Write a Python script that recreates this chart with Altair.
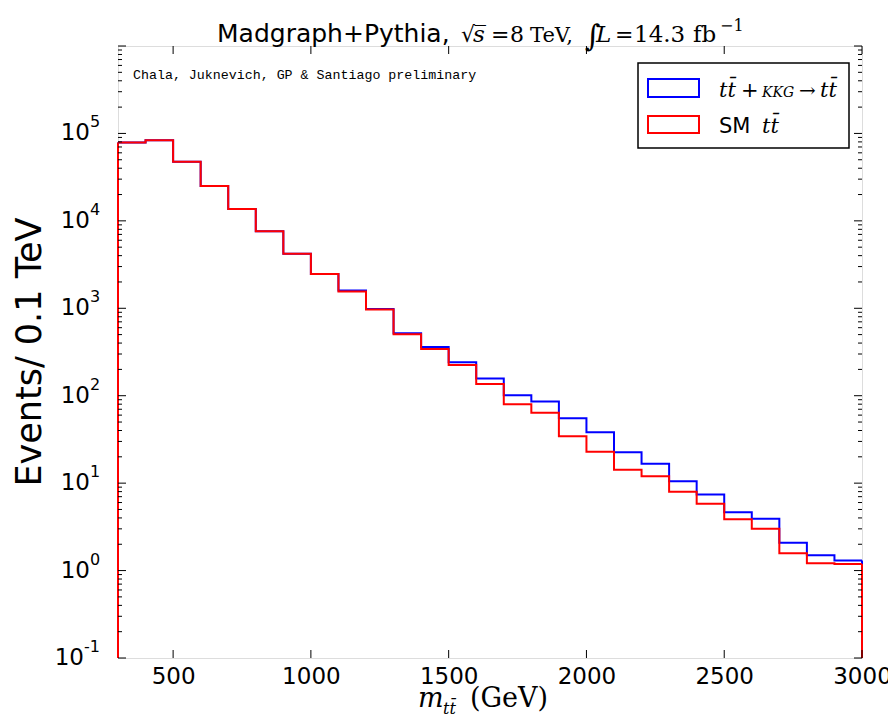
import altair as alt
import pandas as pd

# ---------------- data ----------------
edges = list(range(300, 3001, 100))  # bin edges, GeV (28 edges, 27 bins)
kkg = [78500, 83600, 47500, 25000, 13650, 7590, 4200, 2460, 1600, 984,
       518, 361, 241, 157, 101, 85.6, 55.1, 38.1, 22.5, 16.7,
       10.5, 7.42, 4.66, 3.91, 2.08, 1.50, 1.30]
sm = [78500, 83600, 47500, 25000, 13650, 7590, 4200, 2460, 1556, 969,
      505, 343, 225, 136, 79.7, 64.0, 34.3, 22.9, 14.2, 12.0,
      7.97, 5.81, 3.87, 3.00, 1.58, 1.21, 1.19]
x_ticks = [500, 1000, 1500, 2000, 2500, 3000]
y_major = [1e-1, 1, 10, 100, 1e3, 1e4, 1e5, 1e6]
y_lab_vals = [1, 10, 100, 1e3, 1e4, 1e5]
y_lab_exps = ["0", "1", "2", "3", "4", "5"]
y_neg_vals = [1e-1]
y_neg_exps = ["-1"]
y_minor = [m * d for d in [1e-1, 1, 10, 100, 1e3, 1e4, 1e5] for m in range(2, 10)]

W, H = 744, 612


def step_frame(vals, name):
    return pd.DataFrame({"x": edges, "y": vals + [vals[-1]], "s": name})


df = pd.concat([step_frame(kkg, "kkg"), step_frame(sm, "sm")], ignore_index=True)
edge_df = pd.DataFrame({
    "x": [edges[0], edges[-1], edges[0], edges[-1]],
    "y": [kkg[0], kkg[-1], sm[0], sm[-1]],
    "s": ["kkg", "kkg", "sm", "sm"],
})

xs = alt.Scale(domain=[300, 3000], nice=False, zero=False)
ys = alt.Scale(type="log", domain=[0.1, 1e6], nice=False)
x_enc = alt.X("x:Q", scale=xs,
              axis=alt.Axis(values=x_ticks, format="d", title=None, ticks=False,
                            domain=False, grid=False, labelFont="DejaVu Sans",
                            labelFontSize=23, labelColor="black", labelPadding=7,
                            labelFlush=False))
y_enc = alt.Y("y:Q", scale=ys, axis=None)

BLUE, RED = "#0000ff", "#ff0000"

blue_line = alt.Chart(df).transform_filter(alt.datum.s == "kkg").mark_line(
    interpolate="step-after", color=BLUE, strokeWidth=2).encode(x=x_enc, y=y_enc)
red_line = alt.Chart(df).transform_filter(alt.datum.s == "sm").mark_line(
    interpolate="step-after", color=RED, strokeWidth=2).encode(x=x_enc, y=y_enc)
blue_edges = alt.Chart(edge_df).transform_filter(alt.datum.s == "kkg").mark_rule(
    color=BLUE, strokeWidth=2).encode(x=x_enc, y=y_enc, y2=alt.value(H))
red_edges = alt.Chart(edge_df).transform_filter(alt.datum.s == "sm").mark_rule(
    color=RED, strokeWidth=2).encode(x=x_enc, y=y_enc, y2=alt.value(H))

# tick marks (inward, matplotlib style)
ymaj_df = pd.DataFrame({"y": y_major})
ymin_df = pd.DataFrame({"y": y_minor})
xt_df = pd.DataFrame({"x": x_ticks})
tk = dict(color="black", strokeWidth=1)
ticks = [
    alt.Chart(ymaj_df).mark_rule(**tk).encode(y=y_enc, x=alt.value(0), x2=alt.value(8)),
    alt.Chart(ymaj_df).mark_rule(**tk).encode(y=y_enc, x=alt.value(W - 8), x2=alt.value(W)),
    alt.Chart(ymin_df).mark_rule(**tk).encode(y=y_enc, x=alt.value(0), x2=alt.value(4)),
    alt.Chart(ymin_df).mark_rule(**tk).encode(y=y_enc, x=alt.value(W - 4), x2=alt.value(W)),
    alt.Chart(xt_df).mark_rule(**tk).encode(x=x_enc, y=alt.value(H - 8), y2=alt.value(H)),
    alt.Chart(xt_df).mark_rule(**tk).encode(x=x_enc, y=alt.value(0), y2=alt.value(8)),
]

# y tick labels: "10" with a raised exponent
ylab_df = pd.DataFrame({"y": y_lab_vals, "e": y_lab_exps})
yneg_df = pd.DataFrame({"y": y_neg_vals, "e": y_neg_exps})
lab = dict(font="DejaVu Sans", color="black", baseline="middle")
ylabels = [
    alt.Chart(ylab_df).mark_text(align="right", fontSize=23, **lab).encode(
        y=y_enc, x=alt.value(-28), text=alt.value("10")),
    alt.Chart(ylab_df).mark_text(align="left", fontSize=16, dy=-11, **lab).encode(
        y=y_enc, x=alt.value(-28), text="e:N"),
    alt.Chart(yneg_df).mark_text(align="right", fontSize=23, **lab).encode(
        y=y_enc, x=alt.value(-34), text=alt.value("10")),
    alt.Chart(yneg_df).mark_text(align="left", fontSize=16, dy=-11, **lab).encode(
        y=y_enc, x=alt.value(-34), text="e:N"),
]

one = pd.DataFrame({"a": [0]})


def txt(t, x, y, size, font="DejaVu Sans", style="normal", align="left",
        baseline="alphabetic", **kw):
    return alt.Chart(one).mark_text(text=t, x=x, y=y, fontSize=size, font=font,
                                    fontStyle=style, align=align, baseline=baseline,
                                    color="black", **kw)


SERIF = "DejaVu Serif"
texts = [
    # title
    txt("Madgraph+Pythia,", 99, -4, 25),
    txt("\u221a", 343, -4, 22, SERIF),
    txt("s\u0305", 355, -4, 23, SERIF, "italic"),
    txt("=", 373, -4, 22, SERIF),
    txt("8", 392, -4, 22, SERIF),
    txt("TeV,", 412, -4, 21, SERIF),
    txt("\u222b", 467, 0, 30, SERIF),
    txt("L", 478, -4, 23, SERIF, "italic"),
    txt("=", 497, -4, 22, SERIF),
    txt("14.3", 516, -4, 23, SERIF),
    txt("fb", 575, -4, 23, SERIF),
    txt("\u22121", 602, -15, 16, SERIF),
    # credit
    txt("Chala, Juknevich, GP & Santiago preliminary", 15, 33, 13.3, "Liberation Mono"),
    # x title
    txt("m", 300, 661, 27, SERIF, "italic"),
    txt("tt\u0304", 325, 668, 16, SERIF, "italic"),
    txt("(GeV)", 352, 661, 27, SERIF),
    # y title
    txt("Events/ 0.1 TeV", -88, 306, 35, align="center", baseline="middle", angle=270),
]

# legend
legend = [
    alt.Chart(one).mark_rect(fill="white", stroke="black", strokeWidth=1.5).encode(
        x=alt.value(520), x2=alt.value(731), y=alt.value(17), y2=alt.value(102)),
    alt.Chart(one).mark_rect(fill="white", stroke=BLUE, strokeWidth=2).encode(
        x=alt.value(530), x2=alt.value(581), y=alt.value(33), y2=alt.value(51)),
    alt.Chart(one).mark_rect(fill="white", stroke=RED, strokeWidth=2).encode(
        x=alt.value(530), x2=alt.value(581), y=alt.value(70), y2=alt.value(87)),
    txt("tt\u0304", 601, 51, 21, SERIF, "italic"),
    txt("+", 623, 51, 21, SERIF),
    txt("KKG", 644, 51, 14, SERIF, "italic"),
    txt("\u2192", 681, 51, 20, SERIF),
    txt("tt\u0304", 702, 51, 21, SERIF, "italic"),
    txt("SM", 601, 87, 21),
    txt("tt\u0304", 644, 87, 21, SERIF, "italic"),
]

chart = alt.layer(blue_edges, red_edges, blue_line, red_line, *ticks, *ylabels,
                  *texts, *legend).properties(
    width=W, height=H,
    autosize=alt.AutoSizeParams(type="none"),
    padding={"left": 110, "top": 38, "right": 26, "bottom": 62},
).configure_view(stroke="black", strokeWidth=1.2).configure(background="white")

chart.save("out.html", embed_options={"renderer": "svg", "actions": False})
